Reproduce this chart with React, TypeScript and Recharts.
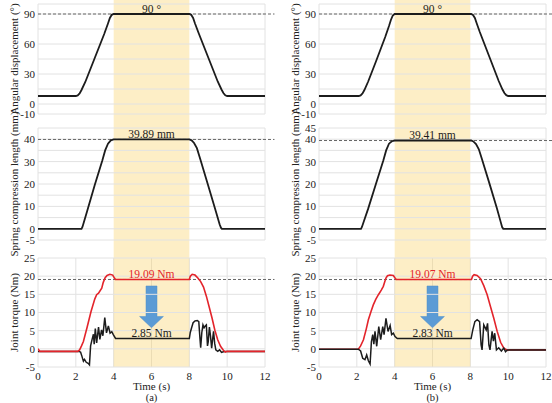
import React from "react";
import {
  LineChart, Line, XAxis, YAxis, CartesianGrid,
  ReferenceLine, ReferenceArea, ReferenceDot,
} from "recharts";

const FONT = '"Liberation Serif", "Times New Roman", serif';
const RED = "#e3242b";
const INK = "#1c1c1c";

// ─── axes ───
const TIME_TICKS = [0, 2, 4, 6, 8, 10, 12];
const ANGLE_TICKS = [-10, 0, 30, 60, 90];
const ANGLE_GRID = [-10, 0, 15, 30, 45, 60, 75, 90, 100];
const SPRING_TICKS_A = [-5, 0, 10, 20, 30, 40];
const SPRING_TICKS_B = [-5, 0, 10, 20, 30, 40, 45];
const SPRING_GRID = [-5, 0, 5, 10, 15, 20, 25, 30, 35, 40, 45];
const TORQUE_TICKS = [-5, 0, 5, 10, 15, 20, 25];
const HOLD = [4, 8];

// ─── (a) series: [time s, value] ───
const ANGLE_A = [[0, 8], [2.0, 8], [2.1, 8.6], [2.2, 10.5], [2.3, 14], [2.5, 22], [3.0, 46], [3.5, 70], [3.7, 80.5], [3.8, 86], [3.9, 89.2], [4.0, 90], [8.0, 90], [8.1, 89.2], [8.2, 86], [8.3, 80.5], [8.5, 70.5], [9.0, 46.5], [9.5, 22.5], [9.7, 14.5], [9.8, 11], [9.9, 8.7], [10.0, 8], [12, 8]];
const SPRING_A = [[0, 0], [2.3, 0], [2.35, 0.8], [2.42, 2.8], [2.6, 8], [3.0, 19.5], [3.4, 30.5], [3.55, 35], [3.7, 38], [3.85, 39.5], [4.0, 39.89], [8.0, 39.89], [8.12, 39.5], [8.25, 38.3], [8.4, 36], [8.6, 30.5], [9.0, 19.2], [9.4, 7.8], [9.6, 2], [9.67, 0.5], [9.72, 0], [12, 0]];
const TORQUE_RED_A = [[0, 0], [0.1, -0.7], [2.1, -0.7], [2.2, -0.3], [2.3, 0.8], [2.4, 2.0], [2.6, 6.0], [2.8, 10.2], [3.0, 13.7], [3.1, 14.9], [3.2, 15.3], [3.37, 16.7], [3.45, 18.3], [3.55, 19.6], [3.65, 20.2], [3.8, 20.5], [3.95, 20.3], [4.05, 19.4], [4.1, 19.09], [8.0, 19.09], [8.05, 20.0], [8.15, 20.5], [8.3, 20.3], [8.45, 19.5], [8.6, 18.5], [8.75, 17], [8.9, 14.5], [9.05, 11.5], [9.2, 8.5], [9.35, 5.1], [9.5, 2.5], [9.65, 0.7], [9.8, -0.4], [9.9, -0.9], [10.0, -0.7], [12, -0.7]];
const TORQUE_BLACK_A = [[0, -0.7], [2.15, -0.7], [2.25, -0.9], [2.32, -2.0], [2.4, -3.4], [2.46, -2.9], [2.55, -3.7], [2.65, -4.0], [2.72, -4.4], [2.78, 0.8], [2.86, 2.6], [2.93, 4.0], [2.97, 1.3], [3.03, 5.6], [3.1, 1.6], [3.2, 6.0], [3.27, 2.6], [3.36, 5.2], [3.43, 3.6], [3.53, 8.6], [3.62, 4.4], [3.72, 6.3], [3.81, 4.3], [3.9, 4.7], [3.98, 3.9], [4.1, 2.85], [8.0, 2.85], [8.05, 4.5], [8.12, 5.8], [8.2, 7.2], [8.3, 7.7], [8.42, 7.8], [8.5, 7.5], [8.56, 3.0], [8.6, 0.3], [8.66, 4.5], [8.72, 6.6], [8.78, 5.8], [8.84, 6.3], [8.9, 6.6], [8.96, 0.8], [9.0, 2.0], [9.06, 6.0], [9.12, 3.5], [9.18, 0.2], [9.24, 3.0], [9.28, 4.8], [9.34, 1.5], [9.4, -0.3], [9.5, -0.7], [9.6, -0.3], [9.7, -1.0], [9.8, -0.8], [9.9, -0.7], [12, -0.7]];

// ─── (b) series ───
const ANGLE_B = [[0, 8], [2.1, 8], [2.2, 8.6], [2.3, 10.5], [2.4, 14], [2.6, 22.5], [3.0, 42], [3.5, 67], [3.7, 78], [3.8, 84], [3.9, 88.5], [4.0, 90], [8.04, 90], [8.14, 89], [8.24, 86], [8.34, 80.5], [8.5, 72], [9.0, 47.5], [9.5, 23], [9.7, 14.5], [9.8, 11], [9.9, 8.8], [10.0, 8], [12, 8]];
const SPRING_B = [[0, 0], [2.22, 0], [2.27, 0.8], [2.35, 2.8], [2.6, 9], [3.0, 19.8], [3.4, 30.5], [3.55, 35], [3.7, 38], [3.85, 39.1], [4.0, 39.41], [8.04, 39.41], [8.16, 39], [8.3, 37.8], [8.45, 35.5], [8.6, 31.5], [9.0, 20.5], [9.4, 9.3], [9.6, 3.2], [9.68, 0.8], [9.74, 0], [12, 0]];
const TORQUE_RED_B = [[0, -0.1], [2.08, -0.1], [2.2, 0.8], [2.35, 2.5], [2.5, 5.5], [2.61, 8], [2.75, 10.3], [2.87, 12.1], [3.0, 13.6], [3.14, 14.9], [3.3, 16.2], [3.4, 17.2], [3.48, 18.5], [3.54, 19.5], [3.62, 20.1], [3.75, 20.3], [3.93, 20.2], [4.02, 19.5], [4.08, 19.07], [8.06, 19.07], [8.12, 20.0], [8.2, 20.4], [8.36, 20.2], [8.54, 19.3], [8.71, 17.4], [8.89, 14.9], [9.06, 11.7], [9.24, 8.4], [9.42, 4.8], [9.6, 1.8], [9.77, 0.2], [9.95, -0.4], [10.05, -0.3], [12, -0.3]];
const TORQUE_BLACK_B = [[0, -0.1], [2.08, -0.1], [2.2, -0.6], [2.31, -2.6], [2.43, -3.0], [2.52, -1.7], [2.61, -3.3], [2.7, -4.2], [2.77, 1.9], [2.84, 3.9], [2.9, 1.3], [2.96, 4.8], [3.05, 0.7], [3.16, 6.1], [3.26, 2.5], [3.37, 6.1], [3.44, 3.9], [3.54, 8.4], [3.65, 4.8], [3.76, 6.4], [3.84, 3.9], [3.93, 4.3], [4.02, 3.4], [4.14, 2.83], [8.04, 2.83], [8.13, 5.2], [8.24, 7.5], [8.36, 8.0], [8.49, 7.5], [8.57, 1.1], [8.62, -0.3], [8.71, 6.6], [8.84, 5.2], [8.91, 7.0], [8.98, 1.1], [9.04, -0.3], [9.15, 4.8], [9.22, 2.1], [9.29, 4.3], [9.38, -0.3], [9.5, 0.3], [9.64, -0.6], [9.77, 0.2], [9.86, -0.8], [9.95, -0.3], [12, -0.3]];

const pts = (arr: number[][]) => arr.map(([t, v]) => ({ t, v }));

const COL_A = { left: 0, width: 276, right: 11, sub: "(a)", id: "a" };
const COL_B = { left: 281, width: 271, right: 6, sub: "(b)", id: "b" };

const tickStyle = { fontSize: 11, fill: "#222", fontFamily: FONT };

function Arrow(p: any) {
  const { x, y, width: w, height: h } = p;
  const cx = x + w / 2;
  const sw = w * 0.23;
  const ht = y + h * 0.73;
  const poly = [[cx - sw, y], [cx + sw, y], [cx + sw, ht], [x + w, ht], [cx, y + h], [x, ht], [cx - sw, ht]];
  return <polygon points={poly.map((q) => q.join(",")).join(" ")} fill="#5b9bd5" stroke="#4f8cc9" strokeWidth={0.5} />;
}

interface PanelProps {
  col: typeof COL_A;
  top: number;
  height: number;
  mTop: number;
  mBottom: number;
  domain: [number, number];
  ticks: number[];
  grid: number[];
  band: [number, number];
  title: string;
  series: { data: number[][]; color: string; w: number }[];
  refY: number;
  refLabel: string;
  refColor: string;
  bottomAxis?: boolean;
  arrow?: boolean;
  low?: { y: number; label: string };
}

function Panel(p: PanelProps) {
  const { col } = p;
  return (
    <div style={{ position: "absolute", left: col.left, top: p.top }}>
      <LineChart
        width={col.width}
        height={p.height}
        margin={{ top: p.mTop, right: col.right, bottom: p.mBottom, left: 8 }}
      >
        <CartesianGrid horizontal={false} stroke="#e2e2e2" />
        <ReferenceArea x1={HOLD[0]} x2={HOLD[1]} y1={p.band[0]} y2={p.band[1]} ifOverflow="visible"
          fill="#f9d36a" fillOpacity={0.38} stroke="none" />
        {p.grid.map((g) => (
          <ReferenceLine key={g} y={g} stroke="#e2e2e2" strokeWidth={1} />
        ))}
        <XAxis
          type="number" dataKey="t" domain={[0, 12]} ticks={TIME_TICKS} interval={0} allowDataOverflow
          height={p.bottomAxis ? 36 : 0} tick={p.bottomAxis ? tickStyle : false}
          axisLine={false} tickLine={false} tickSize={2} tickMargin={3}
          label={p.bottomAxis ? { value: "Time (s)", position: "insideBottom", offset: 13, style: { fontSize: 11, fontFamily: FONT, fill: "#222" } } : undefined}
        />
        <YAxis
          type="number" domain={p.domain} ticks={p.ticks} interval={0} allowDataOverflow
          width={30} tick={tickStyle} axisLine={false} tickLine={false} tickSize={0} tickMargin={3}
          label={{ value: p.title, angle: -90, position: "insideLeft", offset: 6, style: { textAnchor: "middle", fontSize: 11, fontFamily: FONT, fill: "#222" } }}
        />
        <ReferenceLine segment={[{ x: 0, y: p.refY }, { x: 12.5, y: p.refY }]} ifOverflow="visible"
          stroke="#666" strokeDasharray="3 2" strokeWidth={1} />
        {p.series.map((s, i) => (
          <Line key={i} data={pts(s.data)} dataKey="v" type="linear" stroke={s.color} strokeWidth={s.w}
            dot={false} isAnimationActive={false} />
        ))}
        {p.arrow && (
          <ReferenceArea x1={5.37} x2={6.63} y1={5.8} y2={17.3} ifOverflow="visible" shape={Arrow} />
        )}
        <ReferenceDot x={6} y={p.refY} r={0} fill="none" stroke="none" ifOverflow="visible"
          label={{ value: p.refLabel, position: "top", offset: 1.5, fill: p.refColor, fontSize: 11.5, fontFamily: FONT }} />
        {p.low && (
          <ReferenceDot x={6} y={p.low.y} r={0} fill="none" stroke="none" ifOverflow="visible"
            label={{ value: p.low.label, position: "top", offset: 1.5, fill: INK, fontSize: 11.5, fontFamily: FONT }} />
        )}
      </LineChart>
    </div>
  );
}

function Column({ col, angle, spring, red, black, springTicks, springVal, redVal, blackVal, redOnTop }: any) {
  const torqueSeries = redOnTop
    ? [{ data: black, color: INK, w: 1.5 }, { data: red, color: RED, w: 1.6 }]
    : [{ data: red, color: RED, w: 1.6 }, { data: black, color: INK, w: 1.5 }];
  return (
    <>
      <Panel col={col} top={0} height={120} mTop={4} mBottom={6} domain={[-10, 100]} ticks={ANGLE_TICKS}
        grid={ANGLE_GRID} band={[-16, 104]} title="Angular displacement (°)"
        series={[{ data: angle, color: INK, w: 1.8 }]} refY={90} refLabel="90 °" refColor={INK} />
      <Panel col={col} top={120} height={128} mTop={8} mBottom={8} domain={[-5, 45]} ticks={springTicks}
        grid={SPRING_GRID} band={[-8.57, 48.57]} title="Spring compression length (mm)"
        series={[{ data: spring, color: INK, w: 1.8 }]} refY={springVal} refLabel={`${springVal} mm`} refColor={INK} />
      <Panel col={col} top={248} height={155} mTop={10} mBottom={0} domain={[-5, 25]} ticks={TORQUE_TICKS}
        grid={TORQUE_TICKS} band={[-5, 27.75]} title="Joint torque (Nm)" bottomAxis arrow
        series={torqueSeries} refY={redVal} refLabel={`${redVal} Nm`} refColor={RED}
        low={{ y: blackVal, label: `${blackVal} Nm` }} />
      <div style={{ position: "absolute", left: col.left + 38, top: 392, width: col.width - 38 - col.right, textAlign: "center", fontFamily: FONT, fontSize: 10.5, lineHeight: "11px", color: "#222" }}>
        {col.sub}
      </div>
    </>
  );
}

export default function App() {
  return (
    <div style={{ position: "absolute", left: 0, top: 0, width: 552, height: 403, background: "#fff", overflow: "hidden" }}>
      <style>{`.recharts-surface { overflow: visible; } .recharts-wrapper { overflow: visible; }`}</style>
      <Column col={COL_A} angle={ANGLE_A} spring={SPRING_A} red={TORQUE_RED_A} black={TORQUE_BLACK_A}
        springTicks={SPRING_TICKS_A} springVal={39.89} redVal={19.09} blackVal={2.85} redOnTop />
      <Column col={COL_B} angle={ANGLE_B} spring={SPRING_B} red={TORQUE_RED_B} black={TORQUE_BLACK_B}
        springTicks={SPRING_TICKS_B} springVal={39.41} redVal={19.07} blackVal={2.83} redOnTop={false} />
    </div>
  );
}
